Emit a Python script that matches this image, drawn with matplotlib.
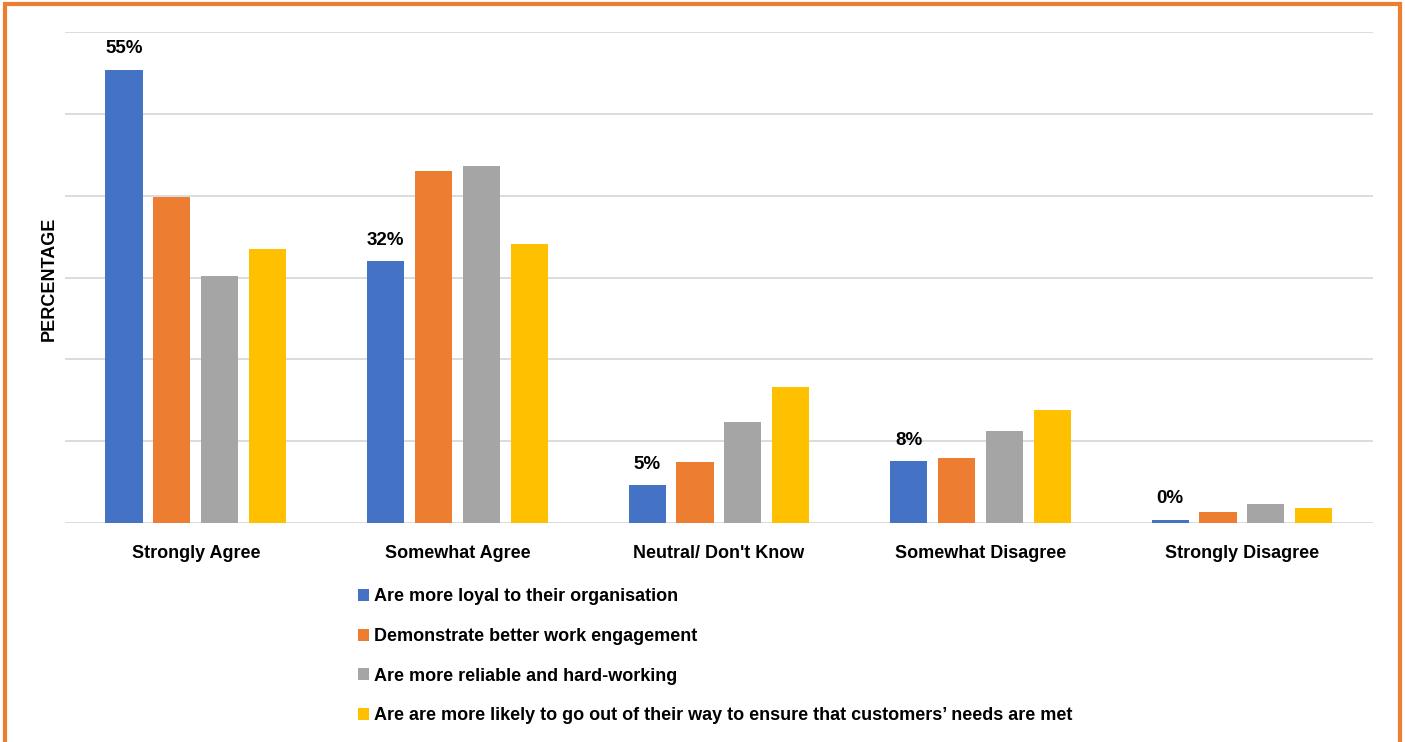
import numpy as np
import matplotlib.pyplot as plt
from matplotlib.patches import Rectangle

plt.rcParams['font.family'] = ['Liberation Sans', 'DejaVu Sans']
plt.rcParams['font.weight'] = 'bold'

# survey responses (%)
categories = ["Strongly Agree", "Somewhat Agree", "Neutral/ Don't Know",
              "Somewhat Disagree", "Strongly Disagree"]
loyal = [55.4, 32, 4.6, 7.6, 0.4]
engagement = [39.8, 43, 7.4, 7.9, 1.4]
reliable = [30.2, 43.6, 12.3, 11.3, 2.3]
customers = [33.5, 34.1, 16.6, 13.8, 1.8]

series_names = ["Are more loyal to their organisation",
                "Demonstrate better work engagement",
                "Are more reliable and hard-working",
                "Are are more likely to go out of their way to ensure that customers\u2019 needs are met"]
colors = ["#4472C4", "#ED7D31", "#A5A5A5", "#FFC000"]

fig = plt.figure(figsize=(14.05, 7.42), dpi=100)
ax = fig.add_axes([0.0463, 0.2951, 0.9307, 0.6618])

x = np.arange(len(categories))
pitch = 0.183
width = 0.142
all_series = [loyal, engagement, reliable, customers]
for i, (vals, c, name) in enumerate(zip(all_series, colors, series_names)):
    bars = ax.bar(x + (i - 1.5) * pitch, vals, width, color=c, label=name, zorder=3)
    if i == 0:
        for b, v in zip(bars, vals):
            ax.text(b.get_x() + b.get_width() / 2, v + 1.5, f"{v:.0f}%",
                    ha='center', va='bottom', fontsize=13.5, fontweight='bold')

ax.set_xlim(-0.5, 4.5)
ax.set_ylim(0, 60)
ax.set_yticks(np.arange(0, 61, 10))
ax.set_yticklabels([])
ax.tick_params(axis='y', length=0)
ax.tick_params(axis='x', length=0, pad=16, labelsize=13)
ax.set_xticks(x)
ax.set_xticklabels(categories, fontweight='bold')
ax.grid(axis='y', color='#D9D9D9', linewidth=1.3, zorder=0)
for s in ['top', 'right', 'left', 'bottom']:
    ax.spines[s].set_visible(False)

fig.text(0.035, 0.6236, "PERCENTAGE", rotation=90, ha='center', va='center',
         fontsize=13, fontweight='bold')

fig.legend(loc='upper left', bbox_to_anchor=(0.2545, 0.207), frameon=False,
           fontsize=13, handlelength=0.65, handleheight=0.65, handletextpad=0.25,
           labelspacing=1.25, borderaxespad=0, borderpad=0)

# orange frame around the figure
fig.patches.append(Rectangle((0.0036, -0.05), 0.9926, 1.045, transform=fig.transFigure,
                             fill=False, edgecolor='#ED7D31', linewidth=3))

fig.savefig("out.png", dpi=100)
